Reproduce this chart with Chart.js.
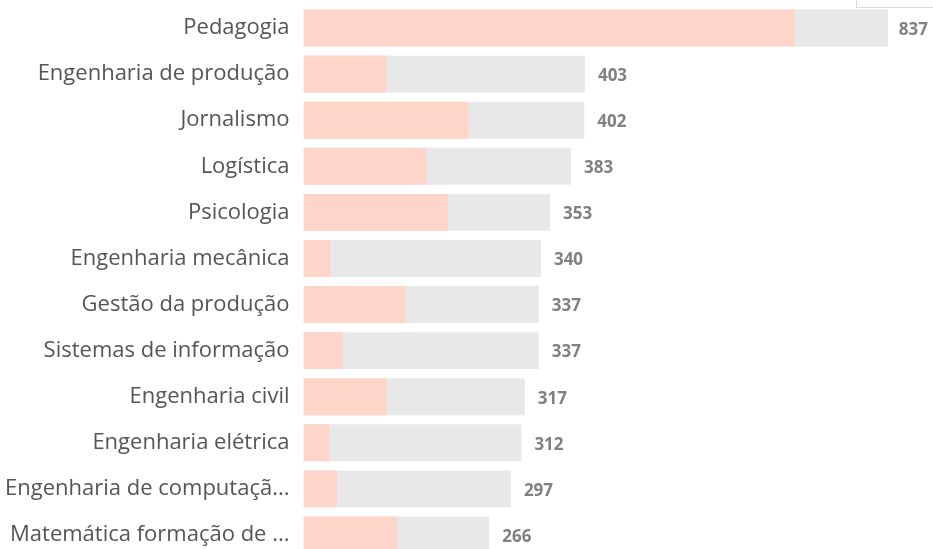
<!DOCTYPE html>
<html>
<head>
<meta charset="utf-8">
<script src="https://cdn.jsdelivr.net/npm/chart.js@4/dist/chart.umd.min.js"></script>
<style>
  html, body { margin: 0; padding: 0; background: #fff; overflow: hidden; }
  #wrap { position: relative; width: 933px; height: 549px; overflow: hidden; }
  #chart { position: absolute; left: 0; top: 0; }
  /* canto de um painel sobreposto no topo direito */
  #panel { position: absolute; left: 856px; top: -10px; width: 90px; height: 16px;
           border: 1px solid #dcdcdc; background: #fff; }
</style>
</head>
<body>
<div id="wrap">
  <canvas id="chart" width="933" height="560"></canvas>
  <div id="panel"></div>
</div>
<script>
// cursos e quantidades
const cursos = [
  'Pedagogia',
  'Engenharia de produção',
  'Jornalismo',
  'Logística',
  'Psicologia',
  'Engenharia mecânica',
  'Gestão da produção',
  'Sistemas de informação',
  'Engenharia civil',
  'Engenharia elétrica',
  'Engenharia de computaçã...',
  'Matemática formação de ...'
];
const totais = [837, 403, 402, 383, 353, 340, 337, 337, 317, 312, 297, 266];
const parciais = [703, 119, 236, 176, 207, 38, 146, 56, 119, 37, 48, 134];

const fonteTexto = "'Open Sans', 'Noto Sans', sans-serif";

// escreve o total à direita de cada barra cinza
const rotulosTotais = {
  id: 'rotulosTotais',
  afterDatasetsDraw(chart) {
    const ctx = chart.ctx;
    const meta = chart.getDatasetMeta(0);
    ctx.save();
    ctx.font = 'bold 17px ' + fonteTexto;
    ctx.fillStyle = '#808080';
    ctx.textAlign = 'left';
    ctx.textBaseline = 'middle';
    meta.data.forEach((bar, i) => {
      const txt = String(totais[i]);
      const w = ctx.measureText(txt).width;
      const x = Math.min(bar.x + 13, chart.width - 5 - w);
      ctx.fillText(txt, x, bar.y + 2);
    });
    ctx.restore();
  }
};

new Chart(document.getElementById('chart'), {
  type: 'bar',
  data: {
    labels: cursos,
    datasets: [
      { // total - barra cinza
        data: totais
        ,backgroundColor: '#e8e8e8'
        ,order: 1
      },
      { // parcial - barra rosa por cima
        data: parciais
        ,backgroundColor: '#ffd4c9'
        ,order: 0
      }
    ]
  },
  options: {
    indexAxis: 'y',
    responsive: false,
    animation: false,
    grouped: false,
    categoryPercentage: 1,
    barPercentage: 0.8,
    layout: { padding: { top: 5, right: 45, bottom: 2, left: 0 } },
    plugins: { legend: { display: false }, tooltip: { enabled: false } },
    events: [],
    scales: {
      x: { display: false, min: 0, max: 837 },
      y: {
        grid: { display: false, drawTicks: false },
        border: { display: false },
        ticks: { color: '#555555', padding: 14, font: { size: 22, family: fonteTexto } },
        afterFit: (scale) => {
          // largura fixa e sem folga vertical para os rótulos
          scale.width = 303.5;
          scale.paddingTop = 0;
          scale.paddingBottom = 0;
        }
      }
    }
  },
  plugins: [rotulosTotais]
});
</script>
</body>
</html>
